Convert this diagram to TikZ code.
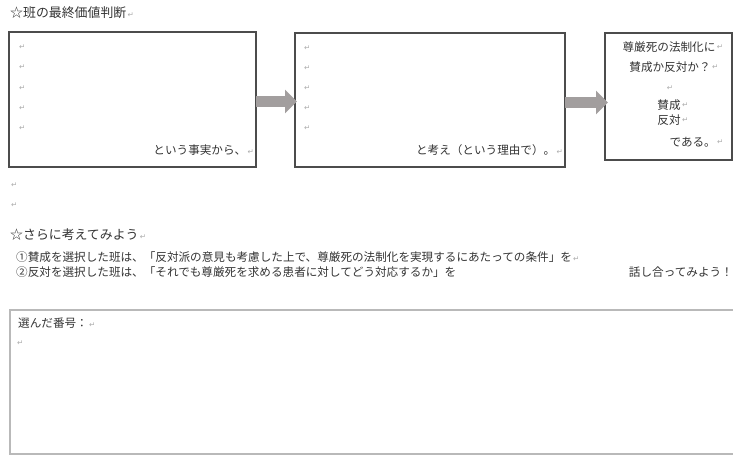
\documentclass[tikz,border=0pt]{standalone}
\usepackage{fontspec}
\setmainfont{Noto Sans CJK JP}
\newfontfamily\symfont{DejaVu Sans}
\usetikzlibrary{arrows.meta}
\definecolor{txt}{gray}{0.2}
\definecolor{boxline}{gray}{0.3}
\definecolor{arrowgray}{RGB}{162,158,158}
\newcommand{\retmark}{{\color{gray!65}\symfont\fontsize{7.5}{8}\selectfont\,↵}}
\begin{document}
\begin{tikzpicture}[x=1pt,y=-1pt,
  box/.style={draw=boxline, line width=1.4pt, inner sep=0pt, outer sep=0pt, anchor=north west},
  body/.style={inner sep=0pt, text=txt, font=\fontsize{11.6}{13}\selectfont},
  headline/.style={inner sep=0pt, text=txt, font=\fontsize{12.9}{14}\selectfont},
  retnode/.style={inner sep=0pt, anchor=west, font=\symfont\fontsize{7.5}{8}\selectfont, text=gray!65},
  fatarrow/.style={draw=arrowgray, line width=11pt, -{Triangle[length=12pt,width=23pt]}}
]
\useasboundingbox (0,0) rectangle (733,456);

% title
\node[headline, anchor=west] (title) at (10,13) {☆班の最終価値判断\retmark};

% three boxes
\node[box, minimum width=247pt, minimum height=135pt] (b1) at (9,32) {};
\node[box, minimum width=270pt, minimum height=134pt] (b2) at (295,33) {};
\node[box, minimum width=127pt, minimum height=127pt] (b3) at (605,33) {};

% box 1 content
\foreach \yy [count=\i] in {47,67,88,108,128}
  \node[retnode] (ra\i) at (19,\yy) {↵};
\node[body, anchor=east] (b1t) at (254,150) {という事実から、\retmark};

% box 2 content
\foreach \yy [count=\i] in {48,68,88,108,128}
  \node[retnode] (rb\i) at (304,\yy) {↵};
\node[body, anchor=east] (b2t) at (563,150) {と考え（という理由で）。\retmark};

% box 3 content
\node[body] (c1) at (669,47) {尊厳死の法制化に};
\node[retnode] (c1r) at ([xshift=1pt]c1.east) {↵};
\node[body] (c2) at (670,67) {賛成か反対か？};
\node[retnode] (c2r) at ([xshift=1pt]c2.east) {↵};
\node[retnode, anchor=center] (c3) at (670,88) {↵};
\node[body] (c4) at (669,105) {賛成};
\node[retnode] (c4r) at ([xshift=1pt]c4.east) {↵};
\node[body] (c5) at (669,120) {反対};
\node[retnode] (c5r) at ([xshift=1pt]c5.east) {↵};
\node[body, anchor=east] (c6) at (716,142) {である。};
\node[retnode] (c6r) at ([xshift=1pt]c6.east) {↵};

% arrows
\coordinate (s1) at ([yshift=-2pt]b1.east);
\coordinate (t1) at (s1 -| b2.west);
\draw[fatarrow] (s1) -- ([xshift=2pt]t1);
\coordinate (s2) at ([yshift=-2.5pt]b2.east);
\coordinate (t2) at (s2 -| b3.west);
\draw[fatarrow] (s2) -- ([xshift=3pt]t2);

% empty lines
\node[retnode] (e1) at (11,185) {↵};
\node[retnode] (e2) at (11,205) {↵};

% second heading
\node[headline, anchor=west] (h2) at (10,235) {☆さらに考えてみよう\retmark};
\node[body, anchor=west] (l1) at (16,257) {①賛成を選択した班は、「反対派の意見も考慮した上で、尊厳死の法制化を実現するにあたっての条件」を\retmark};
\node[body, anchor=west] (l2) at (16,272) {②反対を選択した班は、「それでも尊厳死を求める患者に対してどう対応するか」を};
\node[body, anchor=east] (l3) at (733,272) {話し合ってみよう！};

% bottom box
\node[box, draw=gray!55, minimum width=740pt, minimum height=144pt] (b4) at (10,310) {};
\node[body, anchor=west] (b4t) at (18,323) {選んだ番号：\retmark};
\node[retnode] (b4r) at (17,343) {↵};
\end{tikzpicture}
\end{document}
